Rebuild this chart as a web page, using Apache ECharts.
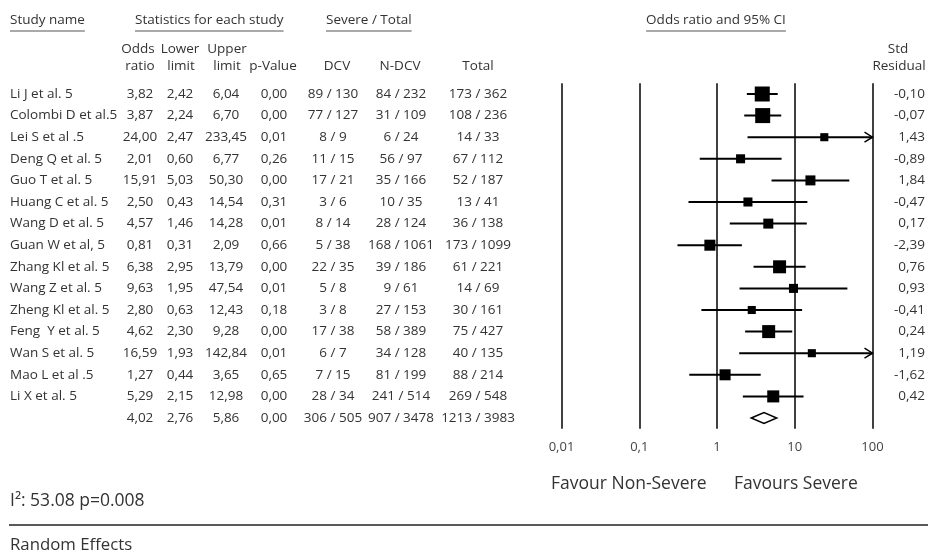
<!DOCTYPE html>
<html>
<head>
<meta charset="utf-8">
<script src="https://cdn.jsdelivr.net/npm/echarts@6/dist/echarts.min.js"></script>
<style>
  html, body { margin: 0; padding: 0; background: #fff; }
  #chart { width: 928px; height: 553px; }
</style>
</head>
<body>
<div id="chart"></div>
<script>
// Study rows; the last row is the pooled (random effects) estimate.
const studyNames = [
  'Li J et al. 5', 'Colombi D et al.5', 'Lei S et al .5', 'Deng Q et al. 5', 'Guo T et al. 5',
  'Huang C et al. 5', 'Wang D et al. 5', 'Guan W et al, 5', 'Zhang Kl et al. 5', 'Wang Z et al. 5',
  'Zheng Kl et al. 5', 'Feng  Y et al. 5', 'Wan S et al. 5', 'Mao L et al .5', 'Li X et al. 5', ''
];
const oddsRatio  = [3.82, 3.87, 24.00, 2.01, 15.91, 2.50, 4.57, 0.81, 6.38, 9.63, 2.80, 4.62, 16.59, 1.27, 5.29, 4.02];
const lowerLimit = [2.42, 2.24, 2.47, 0.60, 5.03, 0.43, 1.46, 0.31, 2.95, 1.95, 0.63, 2.30, 1.93, 0.44, 2.15, 2.76];
const upperLimit = [6.04, 6.70, 233.45, 6.77, 50.30, 14.54, 14.28, 2.09, 13.79, 47.54, 12.43, 9.28, 142.84, 3.65, 12.98, 5.86];
const pValue     = [0.00, 0.00, 0.01, 0.26, 0.00, 0.31, 0.01, 0.66, 0.00, 0.01, 0.18, 0.00, 0.01, 0.65, 0.00, 0.00];
const dcvSevere  = [89, 77, 8, 11, 17, 3, 8, 5, 22, 5, 3, 17, 6, 7, 28, 306];
const dcvTotal   = [130, 127, 9, 15, 21, 6, 14, 38, 35, 8, 8, 38, 7, 15, 34, 505];
const ndcvSevere = [84, 31, 6, 56, 35, 10, 28, 168, 39, 9, 27, 58, 34, 81, 241, 907];
const ndcvTotal  = [232, 109, 24, 97, 166, 35, 124, 1061, 186, 61, 153, 389, 128, 199, 514, 3478];
const allSevere  = [173, 108, 14, 67, 52, 13, 36, 173, 61, 14, 30, 75, 40, 88, 269, 1213];
const allTotal   = [362, 236, 33, 112, 187, 41, 138, 1099, 221, 69, 161, 427, 135, 214, 548, 3983];
const stdResidual = [-0.10, -0.07, 1.43, -0.89, 1.84, -0.47, 0.17, -2.39, 0.76, 0.93, -0.41, 0.24, 1.19, -1.62, 0.42, null];
// Relative study weights (%), used for the size of each square
const relWeight  = [12.4, 12.4, 3.6, 4.5, 5.5, 4.5, 5.5, 6.7, 9.3, 4.5, 3.6, 9.3, 3.6, 6.7, 8.0, null];
// Odds-ratio axis ticks
const axisTicks = [0.01, 0.1, 1, 10, 100];

const FONT = '"Open Sans", "Noto Sans", sans-serif';
const TEXT = '#333';
const TABLE_FS = 13.5;
const ROW_H = 21.6;
const TOP = 83.2;
const rowCount = studyNames.length;
const pooledIdx = rowCount - 1;
const rowIds = studyNames.map((_, i) => String(i));

const comma = v => v.toFixed(2).replace('.', ',');
const frac = (a, b) => a + ' / ' + b;

const measure = document.createElement('canvas').getContext('2d');
function textWidth(str, size) {
  measure.font = size + 'px ' + FONT;
  return measure.measureText(str).width;
}

// Table columns: x position within the full-width table grid
const columns = [
  { x: 10,  align: 'left',   get: i => studyNames[i] },
  { x: 140, align: 'center', get: i => comma(oddsRatio[i]) },
  { x: 180, align: 'center', get: i => comma(lowerLimit[i]) },
  { x: 226, align: 'center', get: i => comma(upperLimit[i]) },
  { x: 274, align: 'center', get: i => comma(pValue[i]) },
  { x: 333, align: 'center', get: i => frac(dcvSevere[i], dcvTotal[i]) },
  { x: 401, align: 'center', get: i => frac(ndcvSevere[i], ndcvTotal[i]) },
  { x: 478, align: 'center', get: i => frac(allSevere[i], allTotal[i]) },
  { x: 925, align: 'right',  get: i => stdResidual[i] == null ? '' : comma(stdResidual[i]) }
];

function txt(str, x, y, align, size) {
  return {
    type: 'text', x: x, y: y, silent: true,
    style: { text: str, fill: TEXT, font: size + 'px ' + FONT, align: align, verticalAlign: 'middle' }
  };
}

// Column headers
const graphics = [];
[
  ['Study name', 10, 'left'],
  ['Statistics for each study', 135, 'left'],
  ['Severe / Total', 326, 'left'],
  ['Odds ratio and 95% CI', 716, 'center']
].forEach(([s, x, align]) => {
  graphics.push(txt(s, x, 20, align, TABLE_FS));
  const w = textWidth(s, TABLE_FS);
  const x1 = align === 'center' ? x - w / 2 : x;
  graphics.push({ type: 'line', silent: true, shape: { x1: x1, y1: 31, x2: x1 + w, y2: 31 }, style: { stroke: '#555', lineWidth: 1 } });
});
[['Odds', 138], ['Lower', 180], ['Upper', 227], ['Std', 898]].forEach(([s, x]) => graphics.push(txt(s, x, 49, 'center', TABLE_FS)));
[['ratio', 140], ['limit', 181], ['limit', 227], ['p-Value', 273], ['DCV', 337], ['N-DCV', 400], ['Total', 478], ['Residual', 899]]
  .forEach(([s, x]) => graphics.push(txt(s, x, 66, 'center', TABLE_FS)));

// Footer
graphics.push(txt('Favour Non-Severe', 551, 484, 'left', 17.5));
graphics.push(txt('Favours Severe', 734, 484, 'left', 17.5));
graphics.push(txt('I\u00b2: 53.08 p=0.008', 10, 501, 'left', 17.5));
graphics.push({ type: 'line', silent: true, shape: { x1: 9, y1: 525, x2: 928, y2: 525 }, style: { stroke: '#222', lineWidth: 1.5 } });
graphics.push(txt('Random Effects', 10, 545, 'left', 16.8));

const studyData = [];
for (let i = 0; i < pooledIdx; i++) {
  studyData.push([oddsRatio[i], lowerLimit[i], upperLimit[i], relWeight[i], i]);
}
const pooledData = [[oddsRatio[pooledIdx], lowerLimit[pooledIdx], upperLimit[pooledIdx], 0, pooledIdx]];
const tableData = rowIds.map((_, i) => [0, i]);

const xMin = axisTicks[0];
const xMax = axisTicks[axisTicks.length - 1];

const option = {
  animation: false,
  graphic: { elements: graphics },
  grid: [
    { left: 561.5, width: 311, top: TOP, height: ROW_H * rowCount },
    { left: 0, width: 928, top: TOP, height: ROW_H * rowCount }
  ],
  xAxis: [
    {
      gridIndex: 0, type: 'log', logBase: 10, min: xMin, max: xMax,
      axisLine: { show: false }, axisTick: { show: false },
      splitLine: { show: true, lineStyle: { color: '#000', width: 1.5 } },
      axisLabel: {
        margin: 12, color: '#444', fontSize: 13, fontFamily: FONT,
        formatter: v => String(+(+v).toPrecision(3)).replace('.', ',')
      }
    },
    { gridIndex: 1, type: 'value', min: 0, max: 928, show: false }
  ],
  yAxis: [
    { gridIndex: 0, type: 'category', data: rowIds, inverse: true, show: false },
    { gridIndex: 1, type: 'category', data: rowIds, inverse: true, show: false }
  ],
  series: [
    {
      // Study estimates: CI whisker + weighted square (arrow when CI exceeds axis)
      type: 'custom', xAxisIndex: 0, yAxisIndex: 0, silent: true,
      data: studyData,
      encode: { x: [0, 1, 2], y: 4 },
      renderItem: (params, api) => {
        const row = api.value(4);
        const pOr = api.coord([api.value(0), row]);
        const y = pOr[1];
        const xLo = api.coord([Math.max(api.value(1), xMin), row])[0];
        const hiVal = api.value(2);
        const xHi = api.coord([Math.min(hiVal, xMax), row])[0];
        const size = 4.26 * Math.sqrt(api.value(3));
        const children = [
          { type: 'line', shape: { x1: xLo, y1: y, x2: xHi, y2: y }, style: { stroke: '#000', lineWidth: 2 } },
          { type: 'rect', shape: { x: pOr[0] - size / 2, y: y - size / 2, width: size, height: size }, style: { fill: '#000' } }
        ];
        if (hiVal > xMax) {
          children.push({ type: 'polyline', shape: { points: [[xHi - 8, y - 5], [xHi, y], [xHi - 8, y + 5]] }, style: { stroke: '#000', lineWidth: 1.5, fill: null } });
        }
        return { type: 'group', children: children };
      }
    },
    {
      // Pooled estimate diamond
      type: 'custom', xAxisIndex: 0, yAxisIndex: 0, silent: true,
      data: pooledData,
      encode: { x: [0, 1, 2], y: 4 },
      renderItem: (params, api) => {
        const row = api.value(4);
        const c = api.coord([api.value(0), row]);
        const lo = api.coord([api.value(1), row])[0];
        const hi = api.coord([api.value(2), row])[0];
        return {
          type: 'polygon',
          shape: { points: [[lo, c[1]], [c[0], c[1] - 5.5], [hi, c[1]], [c[0], c[1] + 5.5]] },
          style: { fill: '#fff', stroke: '#000', lineWidth: 1.5 }
        };
      }
    },
    {
      // Table text, one row per category
      type: 'custom', xAxisIndex: 1, yAxisIndex: 1, silent: true,
      data: tableData,
      encode: { x: 0, y: 1 },
      renderItem: (params, api) => {
        const i = params.dataIndex;
        const y = api.coord([0, i])[1];
        return {
          type: 'group',
          children: columns.map(c => ({
            type: 'text', x: api.coord([c.x, i])[0], y: y,
            style: { text: c.get(i), fill: TEXT, font: TABLE_FS + 'px ' + FONT, align: c.align, verticalAlign: 'middle' }
          }))
        };
      }
    }
  ]
};

const chart = echarts.init(document.getElementById('chart'), null, { renderer: 'canvas' });
chart.setOption(option);
</script>
</body>
</html>
